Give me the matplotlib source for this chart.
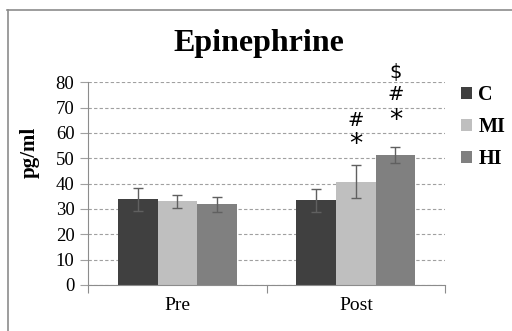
import matplotlib
matplotlib.use("Agg")
import matplotlib.pyplot as plt
import numpy as np

######## Dados ########
momentos = ["Pre", "Post"]
grupos = ["C", "MI", "HI"]
cores = ["#404040", "#bfbfbf", "#808080"]

media_c = [33.8, 33.4]
media_mi = [33.1, 40.8]
media_hi = [31.8, 51.2]

erro_c = [4.6, 4.4]
erro_mi = [2.6, 6.4]
erro_hi = [3.0, 3.2]

# marcas de significancia (texto e altura no eixo y)
marcas_mi = ["*", "#"]
altura_mi = [57.0, 65.0]
marcas_hi = ["*", "#", "$"]
altura_hi = [66.5, 75.3, 84.0]

plt.rcParams["font.family"] = ["Liberation Serif", "DejaVu Serif"]

fig = plt.figure(figsize=(5.12, 3.31), dpi=100)
ax = fig.add_axes([0.1725, 0.139, 0.6967, 0.6124])

x = np.arange(len(momentos))
largura = 0.222
medias = [media_c, media_mi, media_hi]
erros = [erro_c, erro_mi, erro_hi]

for i, (g, m, e, c) in enumerate(zip(grupos, medias, erros, cores)):
    ax.bar(x + (i - 1) * largura, m, width=largura, color=c, label=g, zorder=2,
           yerr=e, error_kw=dict(ecolor="#606060", elinewidth=1, capsize=3.5, capthick=1))

def marca(xp, t, h):
    tam = 19 if t == "*" else 14
    dy = -1.8 if t == "*" else 0
    ax.text(xp, h + dy, t, ha="center", va="center", fontsize=tam,
            family=["DejaVu Sans"], clip_on=False)

for t, h in zip(marcas_mi, altura_mi):
    marca(x[1], t, h)
for t, h in zip(marcas_hi, altura_hi):
    marca(x[1] + largura, t, h)

ax.set_xlim(-0.5, 1.5)
ax.set_ylim(0, 80)
ax.set_yticks(range(0, 81, 10))
ax.yaxis.grid(True, linestyle=(0, (3, 2)), color="#a0a0a0", linewidth=0.8, zorder=0)
ax.set_axisbelow(True)

ax.set_xticks([-0.5, 0.5, 1.5])
ax.set_xticklabels([])
ax.set_xticks(x, minor=True)
ax.set_xticklabels(momentos, minor=True, fontsize=14)
ax.tick_params(axis="x", which="major", length=6, color="#8c8c8c", direction="out")
ax.tick_params(axis="x", which="minor", length=0, pad=9)
ax.tick_params(axis="y", length=6, color="#a0a0a0", labelsize=13.5, pad=4)

for lado in ["top", "right"]:
    ax.spines[lado].set_visible(False)
ax.spines["left"].set_color("#8c8c8c")
ax.spines["bottom"].set_color("#8c8c8c")

ax.set_ylabel("pg/ml", fontsize=15, fontweight="bold")
ax.yaxis.set_label_coords(-0.135, 0.656)
fig.text(0.505, 0.868, "Epinephrine", ha="center", va="center",
         fontsize=23, fontweight="bold")

ax.legend(loc="upper left", bbox_to_anchor=(0.995, 1.075), frameon=False,
          handlelength=0.55, handleheight=0.55, handletextpad=0.3,
          labelspacing=0.6, prop=dict(weight="bold", size=14.5))

######## Moldura ########
fig.add_artist(plt.Line2D([7 / 512, 1], [1 - 9.5 / 331, 1 - 9.5 / 331],
                          color="#8c8c8c", linewidth=1.2))
fig.add_artist(plt.Line2D([7.5 / 512, 7.5 / 512], [0, 1 - 9.5 / 331],
                          color="#8c8c8c", linewidth=1.2))

fig.savefig("out.png", dpi=100)
